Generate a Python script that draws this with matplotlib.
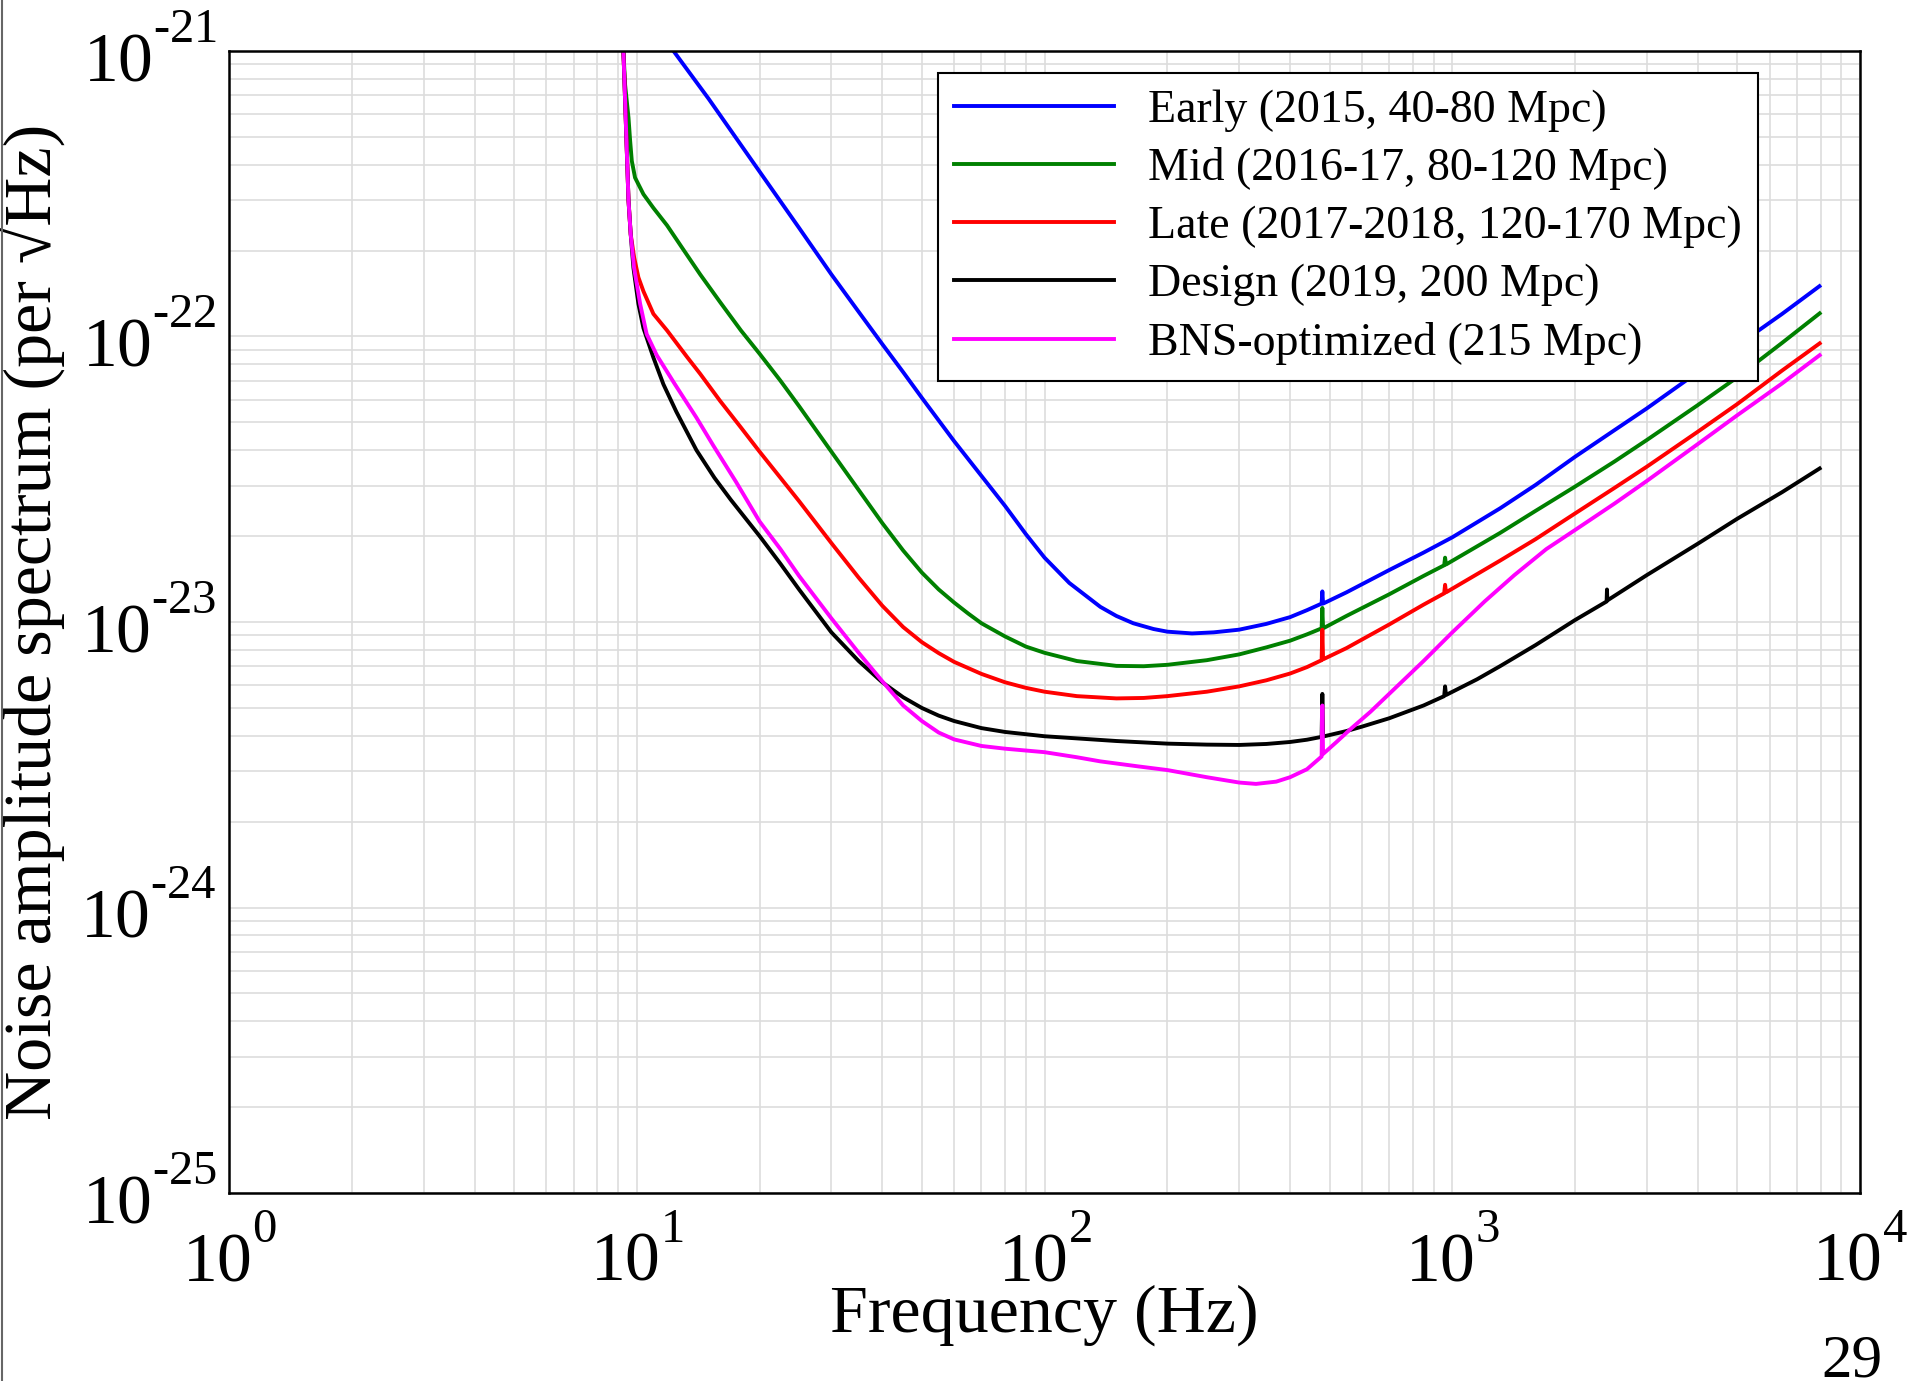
import numpy as np
import matplotlib
matplotlib.use('Agg')
import matplotlib.pyplot as plt
import matplotlib._mathtext as mathtext_internals
from matplotlib.lines import Line2D
from matplotlib.ticker import LogLocator, NullFormatter, FuncFormatter

# noise curves: frequency (Hz) and amplitude spectrum (1/sqrt(Hz))
early_f = [10, 12.3, 15, 20, 25, 30, 35, 40, 45, 50, 60, 70, 80, 90, 100, 115, 137, 150,
           165, 185, 200, 230, 260, 300, 350, 400, 440, 478, 480, 482, 550, 700, 850,
           1000, 1309, 1600, 2000, 2500, 3000, 4000, 5000, 6440, 7950]
early_h = [1.55e-21, 1.0e-21, 6.8e-22, 3.78e-22, 2.4e-22, 1.65e-22, 1.22e-22, 9.4e-23,
           7.5e-23, 6.1e-23, 4.3e-23, 3.25e-23, 2.55e-23, 2.03e-23, 1.68e-23, 1.37e-23,
           1.13e-23, 1.05e-23, 9.9e-24, 9.45e-24, 9.25e-24, 9.12e-24, 9.2e-24, 9.4e-24,
           9.85e-24, 1.04e-23, 1.1e-23, 1.16e-23, 1.28e-23, 1.16e-23, 1.27e-23, 1.52e-23,
           1.75e-23, 1.98e-23, 2.5e-23, 3.02e-23, 3.79e-23, 4.7e-23, 5.6e-23, 7.5e-23,
           9.3e-23, 1.2e-22, 1.5e-22]

mid_f = [9.0, 9.27, 9.36, 9.54, 9.63, 9.72, 9.9, 10.38, 10.98, 11.86, 12.9, 14.3, 16, 18,
         20, 22.5, 25, 30, 35, 40, 45, 50, 55, 60, 65, 70, 80, 90, 100, 120, 150, 175,
         200, 250, 300, 350, 400, 440, 478, 480, 482, 550, 700, 850, 955, 960, 965,
         1309, 1600, 2000, 2500, 3000, 4000, 5000, 6440, 7960]
mid_h = [5e-21, 1e-21, 7.6e-22, 5.84e-22, 4.84e-22, 4.12e-22, 3.6e-22, 3.15e-22, 2.82e-22,
         2.45e-22, 2.05e-22, 1.65e-22, 1.32e-22, 1.05e-22, 8.7e-23, 7.0e-23, 5.7e-23,
         3.95e-23, 2.9e-23, 2.22e-23, 1.78e-23, 1.49e-23, 1.3e-23, 1.17e-23, 1.07e-23,
         9.9e-24, 8.9e-24, 8.2e-24, 7.8e-24, 7.3e-24, 7.02e-24, 7.0e-24, 7.08e-24,
         7.35e-24, 7.7e-24, 8.15e-24, 8.6e-24, 9.05e-24, 9.5e-24, 1.12e-23, 9.5e-24,
         1.05e-23, 1.25e-23, 1.45e-23, 1.58e-23, 1.68e-23, 1.59e-23, 2.05e-23, 2.45e-23,
         2.98e-23, 3.65e-23, 4.34e-23, 5.75e-23, 7.2e-23, 9.5e-23, 1.205e-22]

late_f = [9.0, 9.27, 9.36, 9.45, 9.54, 9.66, 9.85, 10.09, 10.38, 10.98, 11.86, 13.26,
          14.3, 16, 18, 20, 22.5, 25, 30, 35, 40, 45, 50, 55, 60, 70, 80, 90, 100, 120,
          150, 175, 200, 250, 300, 350, 400, 440, 478, 480, 482, 550, 700, 850, 955, 960,
          965, 1309, 1600, 2000, 2500, 3000, 4000, 5000, 6440, 7960]
late_h = [5e-21, 1e-21, 6.7e-22, 4.47e-22, 3.0e-22, 2.28e-22, 1.89e-22, 1.61e-22,
          1.44e-22, 1.2e-22, 1.05e-22, 8.5e-23, 7.4e-23, 5.95e-23, 4.8e-23, 3.95e-23,
          3.2e-23, 2.65e-23, 1.89e-23, 1.43e-23, 1.14e-23, 9.6e-24, 8.5e-24, 7.78e-24,
          7.25e-24, 6.58e-24, 6.15e-24, 5.88e-24, 5.7e-24, 5.5e-24, 5.4e-24, 5.42e-24,
          5.5e-24, 5.7e-24, 5.95e-24, 6.25e-24, 6.6e-24, 6.95e-24, 7.35e-24, 9.4e-24,
          7.4e-24, 8.1e-24, 9.8e-24, 1.15e-23, 1.26e-23, 1.35e-23, 1.27e-23, 1.64e-23,
          1.95e-23, 2.4e-23, 2.95e-23, 3.5e-23, 4.64e-23, 5.8e-23, 7.6e-23, 9.46e-23]

design_f = [9.0, 9.27, 9.36, 9.45, 9.54, 9.66, 9.81, 10.09, 10.38, 10.98, 11.62, 12.5,
            14.0, 15.5, 17, 20, 22.5, 25, 30, 35, 40, 45, 50, 55, 60, 70, 80, 100, 150,
            200, 250, 300, 350, 400, 440, 478, 480, 482, 550, 600, 700, 850, 955, 960,
            965, 1150, 1309, 1600, 2000, 2390, 2395, 2400, 3000, 4000, 5000, 6440, 7960]
design_h = [5e-21, 1e-21, 6.7e-22, 4.47e-22, 3.0e-22, 2.28e-22, 1.74e-22, 1.3e-22,
            1.07e-22, 8.44e-23, 6.8e-23, 5.45e-23, 4.0e-23, 3.2e-23, 2.68e-23, 2.0e-23,
            1.6e-23, 1.3e-23, 9.2e-24, 7.3e-24, 6.15e-24, 5.45e-24, 5.0e-24, 4.7e-24,
            4.5e-24, 4.25e-24, 4.12e-24, 3.98e-24, 3.83e-24, 3.75e-24, 3.72e-24, 3.71e-24,
            3.74e-24, 3.8e-24, 3.87e-24, 3.96e-24, 5.6e-24, 3.97e-24, 4.15e-24, 4.3e-24,
            4.6e-24, 5.1e-24, 5.5e-24, 5.95e-24, 5.55e-24, 6.3e-24, 7.0e-24, 8.3e-24,
            1.016e-23, 1.18e-23, 1.3e-23, 1.19e-23, 1.46e-23, 1.88e-23, 2.3e-23, 2.85e-23,
            3.45e-23]

bns_f = [9.0, 9.27, 9.36, 9.45, 9.54, 9.66, 9.845, 10.19, 10.57, 11.19, 12.4, 14, 15.4,
         17.5, 20, 22.5, 25, 30, 35, 40, 45, 50, 55, 60, 70, 80, 100, 120, 137, 170, 200,
         250, 300, 330, 370, 400, 440, 478, 480, 482, 520, 561, 630, 700, 850, 1000,
         1200, 1420, 1700, 2000, 2500, 3000, 4000, 5000, 6440, 7960]
bns_h = [5e-21, 1e-21, 6.7e-22, 4.47e-22, 3.0e-22, 2.28e-22, 1.74e-22, 1.3e-22, 1.02e-22,
         8.6e-23, 6.8e-23, 5.2e-23, 4.15e-23, 3.1e-23, 2.25e-23, 1.8e-23, 1.45e-23,
         1.03e-23, 7.8e-24, 6.2e-24, 5.1e-24, 4.5e-24, 4.1e-24, 3.88e-24, 3.68e-24,
         3.6e-24, 3.5e-24, 3.36e-24, 3.25e-24, 3.12e-24, 3.03e-24, 2.86e-24, 2.74e-24,
         2.71e-24, 2.76e-24, 2.86e-24, 3.05e-24, 3.38e-24, 5.1e-24, 3.45e-24, 3.8e-24,
         4.2e-24, 4.85e-24, 5.6e-24, 7.3e-24, 9.2e-24, 1.18e-23, 1.46e-23, 1.8e-23,
         2.1e-23, 2.6e-23, 3.12e-23, 4.2e-23, 5.3e-23, 6.85e-23, 8.6e-23]

labels = ['Early (2015, 40-80 Mpc)',
          'Mid (2016-17, 80-120 Mpc)',
          'Late (2017-2018, 120-170 Mpc)',
          'Design (2019, 200 Mpc)',
          'BNS-optimized (215 Mpc)']
colors = ['#0000ff', '#008000', '#ff0000', '#000000', '#ff00ff']

plt.rcParams['font.family'] = ['Liberation Serif', 'DejaVu Serif']
plt.rcParams['mathtext.fontset'] = 'custom'
plt.rcParams['mathtext.rm'] = 'Liberation Serif'
plt.rcParams['mathtext.it'] = 'Liberation Serif:italic'
plt.rcParams['axes.unicode_minus'] = False
# exponents sit higher above the "10" in the original
mathtext_internals.FontConstantsBase.sup1 = 1.2

fig = plt.figure(figsize=(19.17, 13.81), dpi=100)
ax = fig.add_axes([0.1195, 0.1361, 0.8508, 0.8270])

# Plot the curves
curves = [(early_f, early_h), (mid_f, mid_h), (late_f, late_h),
          (design_f, design_h), (bns_f, bns_h)]
for (f, h), lab, c in zip(curves, labels, colors):
    ax.loglog(f, h, color=c, lw=2.8, label=lab)

ax.set_xlim(1, 1e4)
ax.set_ylim(1e-25, 1e-21)


def pow10(v, pos):
    # 10^n with a plain hyphen in the exponent, like the original
    n = int(round(np.log10(v)))
    return r'$\mathdefault{10^{\text{%d}}}$' % n


for axis in (ax.xaxis, ax.yaxis):
    axis.set_major_locator(LogLocator(base=10, numticks=20))
    axis.set_minor_locator(LogLocator(base=10, subs=np.arange(2, 10), numticks=100))
    axis.set_major_formatter(FuncFormatter(pow10))
    axis.set_minor_formatter(NullFormatter())

# Grid and frame
ax.grid(True, which='both', color='#dddddd', lw=1.2)
ax.set_axisbelow(True)
ax.tick_params(which='both', length=0)
ax.tick_params(axis='x', pad=20, labelsize=50)
ax.tick_params(axis='y', pad=9, labelsize=50)
for s in ax.spines.values():
    s.set_linewidth(1.8)

# Labels
ax.set_xlabel('Frequency (Hz)', fontsize=49)
ax.set_ylabel('Noise amplitude spectrum (per \u221aHz)', fontsize=49)
ax.xaxis.set_label_coords(0.5, -0.080)
ax.yaxis.set_label_coords(-0.1, 0.5)

leg = ax.legend(loc='upper right', bbox_to_anchor=(0.9375, 0.9807), borderaxespad=0,
                fontsize=33, handlelength=3.5, handletextpad=0.75, labelspacing=0.34,
                borderpad=0.35, fancybox=False, framealpha=1, edgecolor='black')
leg.get_frame().set_linewidth(1.5)

# page number and page edge
fig.text(0.966, 0.003, '29', fontsize=44, ha='center', va='baseline')
fig.add_artist(Line2D([0.0008, 0.0008], [0, 1], transform=fig.transFigure,
                      color='#666666', lw=1.5))

plt.savefig('out.png', dpi=100)
